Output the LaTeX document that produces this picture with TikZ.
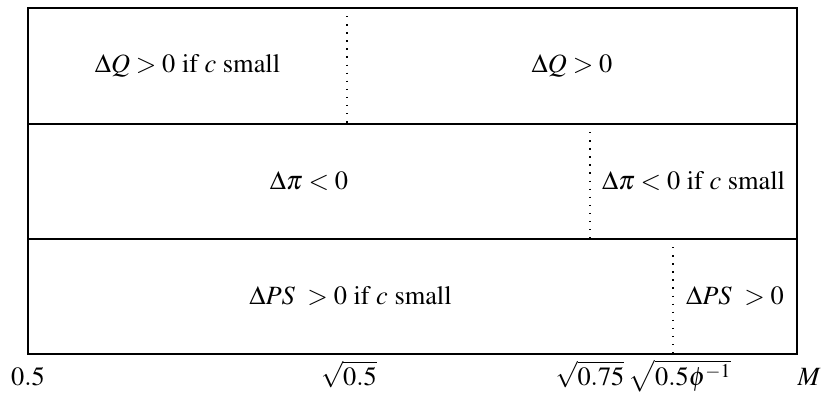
\documentclass[tikz,border=0pt]{standalone}
\usepackage[T1]{fontenc}
\usepackage{mathptmx}
\usepackage{tikz}
\usetikzlibrary{positioning, calc}

\begin{document}
\begin{tikzpicture}[
    x=0.02cm, y=-0.02cm,
    every node/.style={font=\fontsize{15}{17}\selectfont, align=center},
    region/.style={inner sep=0pt},
    axislabel/.style={anchor=base, inner sep=0pt},
    border/.style={draw=black, line width=0.75pt},
    cut/.style={draw=black, line width=0.8pt, dash pattern=on 0.8pt off 3.8pt}
]
\useasboundingbox (0,0) rectangle (827,394);

% Frame
\coordinate (nw) at (28,8);
\coordinate (se) at (797,354);
\coordinate (r1w) at (28,124);
\coordinate (r1e) at (797,124);
\coordinate (r2w) at (28,239);
\coordinate (r2e) at (797,239);
\draw[border] (nw) rectangle (se);
\draw[border] (r1w) -- (r1e);
\draw[border] (r2w) -- (r2e);

% Thresholds
\coordinate (qtop) at (347,8);
\coordinate (qbot) at (347,124);
\coordinate (ptop) at (590,124);
\coordinate (pbot) at (590,239);
\coordinate (stop) at (673,239);
\coordinate (sbot) at (673,354);
\draw[cut] (qtop) -- (qbot);
\draw[cut] (ptop) -- (pbot);
\draw[cut] (stop) -- (sbot);

% Quantity
\node[region] (qleft) at ($(nw)!0.5!(qbot)$) {$\Delta Q > 0$ if $c$ small};
\node[region] (qright) at ($(qtop)!0.5!(r1e)$) {$\Delta Q > 0$};

% Profit
\node[region] (pleft) at ($(r1w)!0.5!(pbot)$) {$\Delta \pi < 0$};
\node[region] (pright) at ($(ptop)!0.5!(r2e)$) {$\Delta \pi < 0$ if $c$ small};

% Producer surplus
\node[region] (sleft) at ($(r2w)!0.5!(sbot)$) {$\Delta PS\ > 0$ if $c$ small};
\node[region] (sright) at ($(stop)!0.5!(se)$) {$\Delta PS\ > 0$};

% Axis
\node[axislabel] (half) at (28,385) {$0.5$};
\node[axislabel] (rthalf) at (349,385) {$\sqrt{0.5}$};
\node[axislabel] (rtthree) at (590,385) {$\sqrt{0.75}$};
\node[axislabel] (rtphi) at (680,385) {$\sqrt{0.5\phi^{-1}}$};
\node[axislabel] (mlabel) at (809,385) {$M$};

\end{tikzpicture}
\end{document}
